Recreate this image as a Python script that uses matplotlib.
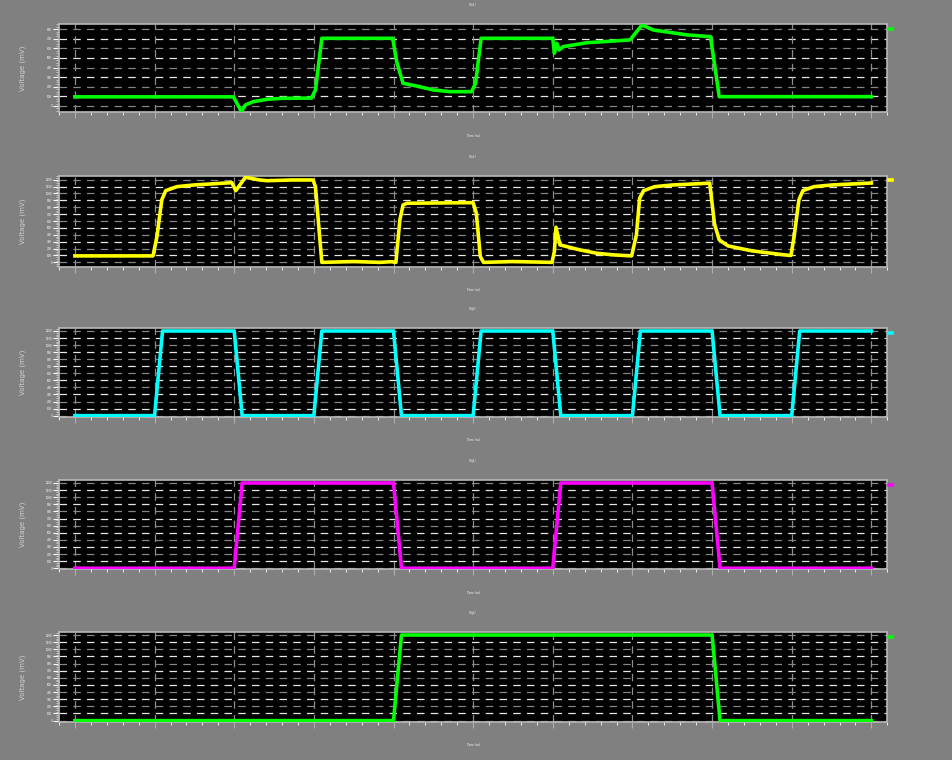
import numpy as np
import matplotlib
matplotlib.use("Agg")
import matplotlib.pyplot as plt
from matplotlib.ticker import MultipleLocator

# time axis (ns) and traces (mV)
t1 = [0, 1.99, 2.09, 2.14, 2.24, 2.41, 2.62, 2.97, 3.02, 3.1, 3.99, 4.04, 4.12,
      4.29, 4.5, 4.71, 4.98, 5.03, 5.1, 6.0, 6.02, 6.05, 6.08, 6.13, 6.43, 6.97,
      7.12, 7.26, 7.69, 7.98, 8.09, 10]
v1 = [95, 95, -59, 10, 45, 70, 80, 82, 167, 705, 705, 461, 236,
      208, 167, 149, 149, 236, 705, 705, 549, 653, 583, 618, 659, 688,
      844, 792, 740, 722, 97, 97]

t2 = [0, 0.98, 1.03, 1.09, 1.14, 1.28, 1.49, 1.7, 1.97, 2.02, 2.14, 2.32, 2.41,
      2.74, 2.99, 3.02, 3.1, 3.5, 3.83, 3.97, 4.03, 4.08, 4.12, 4.17, 5.0, 5.04,
      5.09, 5.13, 5.5, 5.99, 6.02, 6.04, 6.09, 6.34, 6.55, 6.76, 6.99, 7.05, 7.09,
      7.14, 7.28, 7.5, 7.97, 8.03, 8.09, 8.2, 8.5, 8.9, 8.99, 9.03, 9.09, 9.14,
      9.28, 9.5, 10]
v2 = [94, 94, 374, 906, 1041, 1099, 1123, 1138, 1157, 1041, 1235, 1196, 1186,
      1196, 1196, 1099, 0, 12, 0, 10, 0, 616, 833, 858, 867, 713,
      84, 0, 12, 0, 157, 510, 254, 181, 133, 109, 94, 400, 930,
      1041, 1099, 1123, 1150, 560, 326, 239, 167, 110, 100, 374, 906, 1041,
      1099, 1123, 1152]

t3 = [0, 1, 1.1, 2, 2.1, 3, 3.1, 4, 4.1, 5, 5.1, 6, 6.1, 7, 7.1, 8, 8.1, 9, 9.1, 10]
v3 = [0, 0, 1200, 1200, 0, 0, 1200, 1200, 0, 0, 1200, 1200, 0, 0, 1200, 1200, 0, 0, 1200, 1200]

t4 = [0, 2, 2.1, 4, 4.1, 6, 6.1, 8, 8.1, 10]
v4 = [0, 0, 1200, 1200, 0, 0, 1200, 1200, 0, 0]

t5 = [0, 4, 4.1, 8, 8.1, 10]
v5 = [0, 0, 1200, 1200, 0, 0]

traces = [(t1, v1), (t2, v2), (t3, v3), (t4, v4), (t5, v5)]
names = ["V(n1)", "V(n2)", "V(q0)", "V(q1)", "V(q2)"]
colors = ["#00ff00", "#ffff00", "#00ffff", "#ff00ff", "#00ff00"]
ylims = [(-66, 854), (-60, 1258), (-15, 1238), (-15, 1238), (-15, 1238)]
ytops = [800, 1200, 1200, 1200, 1200]

# axes boxes in pixels (top, bottom) of a 953x760 canvas
boxes = [(24, 112.3), (175.7, 266.5), (328.3, 416.7), (480.3, 569.3), (632.3, 721.7)]
W, H = 953, 760
left_px, right_px = 59, 887.3

fig = plt.figure(figsize=(W / 100, H / 100), dpi=100)
fig.patch.set_facecolor("#808080")

for i, ((t, v), (top, bot)) in enumerate(zip(traces, boxes)):
    ax = fig.add_axes([left_px / W, 1 - bot / H, (right_px - left_px) / W, (bot - top) / H])
    ax.set_facecolor("black")

    # dashed grid, alternating white / gray rows
    for k, yv in enumerate(range(0, ytops[i] + 1, 100)):
        ax.axhline(yv, color="#e6e6e6" if k % 2 else "#858585", lw=0.9,
                   ls=(0, (6, 5)), zorder=1)
    for xv in range(0, 11):
        ax.axvline(xv, color="#8c8c8c", lw=0.9, ls=(0, (6, 5)), zorder=1)

    ax.plot(t, v, color=colors[i], lw=2.6, label=names[i], zorder=3)

    ax.set_xlim(-0.2, 10.2)
    ax.set_ylim(*ylims[i])
    ax.xaxis.set_major_locator(MultipleLocator(1))
    ax.xaxis.set_minor_locator(MultipleLocator(0.2))
    ax.yaxis.set_major_locator(MultipleLocator(100))
    ax.yaxis.set_minor_locator(MultipleLocator(25))
    ax.tick_params(axis="x", which="major", length=4, color="#b0b0b0", labelbottom=False)
    ax.tick_params(axis="x", which="minor", length=2, color="#ffffff")
    ax.tick_params(axis="y", which="major", length=4, color="#ffffff",
                   labelsize=2, labelcolor="#ffffff", pad=1)
    ax.tick_params(axis="y", which="minor", length=2, color="#cfcfcf")

    for s in ax.spines.values():
        s.set_color("#b8b8b8")
        s.set_linewidth(1.2)

    ax.set_title(names[i], fontsize=2, color="#ffffff", pad=13)
    ax.set_xlabel("Time (ns)", fontsize=2, color="#ffffff", labelpad=10)
    ax.set_ylabel("Voltage (mV)", fontsize=5, color="#d0d0d0")
    ax.yaxis.set_label_coords(-0.04, 0.5)

    ax.legend(loc="upper left", bbox_to_anchor=(1.0, 0.97), frameon=False,
              fontsize=1.5, labelcolor="#808080", handlelength=1.8,
              borderaxespad=0.3, borderpad=0.3)

fig.savefig("out.png", dpi=100, facecolor=fig.get_facecolor())
